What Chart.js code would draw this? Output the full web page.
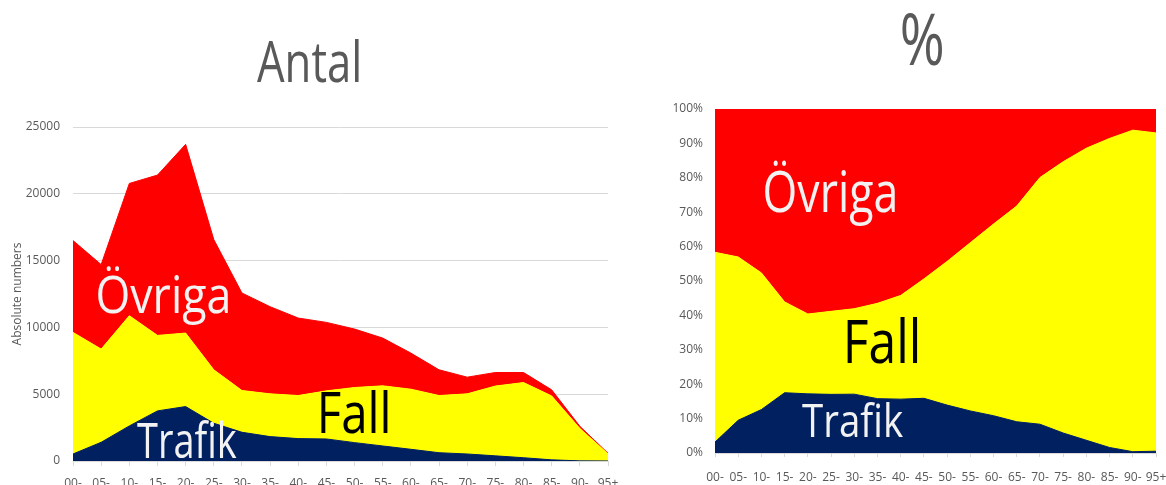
<!DOCTYPE html>
<html>
<head>
<meta charset="utf-8">
<script src="https://cdn.jsdelivr.net/npm/chart.js@4.4.1/dist/chart.umd.min.js"></script>
<style>
  html, body { margin: 0; padding: 0; overflow: hidden; background: #fff; width: 1166px; height: 485px; }
  #antal { position: absolute; left: 0; top: 0; }
  #andel { position: absolute; left: 620px; top: 0; }
</style>
</head>
<body>
<canvas id="antal" width="640" height="500"></canvas>
<canvas id="andel" width="560" height="500"></canvas>
<script>
// åldersgrupper
const ages = ['00-','05-','10-','15-','20-','25-','30-','35-','40-','45-','50-','55-','60-','65-','70-','75-','80-','85-','90-','95+'];

// antal per orsak och åldersgrupp
const trafik = [525, 1400, 2625, 3750, 4075, 2825, 2150, 1825, 1675, 1650, 1375, 1125, 875, 620, 525, 385, 245, 85, 10, 3];
const fall   = [9100, 6975, 8250, 5650, 5500, 4000, 3125, 3200, 3225, 3600, 4125, 4500, 4500, 4280, 4500, 5225, 5625, 4785, 2430, 532];
const ovriga = [6875, 6325, 9900, 12000, 14125, 9750, 7300, 6525, 5800, 5125, 4375, 3575, 2700, 1925, 1250, 1015, 755, 455, 160, 40];

const antalTicks = [0, 5000, 10000, 15000, 20000, 25000];

const GREY = '#595959';
const GRID = '#d9d9d9';
const FONT = 'Open Sans';

// andel i procent av totalen per åldersgrupp
const totals = ages.map((_, i) => trafik[i] + fall[i] + ovriga[i]);
const share = arr => arr.map((v, i) => v / totals[i] * 100);

// stor text, pressad i sidled till angiven bredd
const bigText = {
  id: 'bigText',
  afterDatasetsDraw(chart, args, opts) {
    const ctx = chart.ctx;
    (opts.items || []).forEach(t => {
      ctx.save();
      ctx.font = t.size + 'px "' + FONT + '"';
      ctx.fillStyle = t.color;
      ctx.textAlign = 'left';
      ctx.textBaseline = 'alphabetic';
      const m = ctx.measureText(t.text);
      const ink = m.actualBoundingBoxLeft + m.actualBoundingBoxRight;
      ctx.translate(t.x, t.y);
      ctx.scale(t.width / ink, 1);
      ctx.fillText(t.text, m.actualBoundingBoxLeft, 0);
      ctx.restore();
    });
  }
};

function areaSets(a, b, c) {
  return [
    { label: 'Trafik', data: a, backgroundColor: '#002060', borderColor: '#002060', fill: 'origin' },
    { label: 'Fall',   data: b, backgroundColor: '#ffff00', borderColor: '#ffff00', fill: '-1' },
    { label: 'Övriga', data: c, backgroundColor: '#ff0000', borderColor: '#ff0000', fill: '-1' }
  ];
}

const common = {
  responsive: false,
  animation: false,
  elements: { point: { radius: 0 }, line: { borderWidth: 1, tension: 0 } },
  plugins: { legend: { display: false }, tooltip: { enabled: false } }
};

// Antal
new Chart(document.getElementById('antal'), {
  type: 'line',
  data: { labels: ages, datasets: areaSets(trafik, fall, ovriga) },
  plugins: [bigText],
  options: {
    ...common,
    layout: { padding: { top: 127, right: 32, left: 0, bottom: 0 } },
    plugins: {
      ...common.plugins,
      bigText: {
        items: [
          { text: 'Antal',  x: 257, y: 82,  size: 56, width: 102, color: GREY },
          { text: 'Övriga', x: 98,  y: 313, size: 52, width: 130, color: '#f2f2f2' },
          { text: 'Trafik', x: 137, y: 458, size: 49, width: 100, color: '#f2f2f2' },
          { text: 'Fall',   x: 321, y: 433, size: 56, width: 67,  color: '#000' }
        ]
      }
    },
    scales: {
      x: {
        offset: false,
        grid: { drawOnChartArea: false, color: GRID, tickLength: 5 },
        border: { color: GRID },
        ticks: { color: GREY, font: { family: FONT, size: 12 }, padding: 10, autoSkip: false, maxRotation: 0 },
        afterFit(axis) { axis.height = 39; }
      },
      y: {
        stacked: true,
        min: antalTicks[0],
        max: antalTicks[antalTicks.length - 1],
        afterBuildTicks(axis) { axis.ticks = antalTicks.map(v => ({ value: v })); },
        ticks: { color: GREY, font: { family: FONT, size: 12 }, padding: 13, callback: v => String(v) },
        grid: { color: GRID, drawTicks: false },
        border: { display: false },
        title: { display: true, text: 'Absolute numbers', color: GREY, font: { family: FONT, size: 12 }, padding: { top: 10, bottom: 0 } },
        afterFit(axis) { axis.width = 73; }
      }
    }
  }
});

// Andel i procent
new Chart(document.getElementById('andel'), {
  type: 'line',
  data: { labels: ages, datasets: areaSets(share(trafik), share(fall), share(ovriga)) },
  plugins: [bigText],
  options: {
    ...common,
    layout: { padding: { top: 109, right: 24, left: 0, bottom: 0 } },
    plugins: {
      ...common.plugins,
      bigText: {
        items: [
          { text: '%',      x: 282, y: 65,  size: 72, width: 40,  color: GREY },
          { text: 'Övriga', x: 145, y: 212, size: 56, width: 130, color: '#f2f2f2' },
          { text: 'Fall',   x: 227, y: 363, size: 60, width: 71,  color: '#000' },
          { text: 'Trafik', x: 182, y: 437, size: 46, width: 101, color: '#f2f2f2' }
        ]
      }
    },
    scales: {
      x: {
        offset: false,
        grid: { drawOnChartArea: false, color: GRID, tickLength: 4 },
        border: { color: GRID },
        ticks: { color: GREY, font: { family: FONT, size: 12 }, padding: 13, autoSkip: false, maxRotation: 0 },
        afterFit(axis) { axis.height = 47; }
      },
      y: {
        stacked: true,
        min: 0,
        max: 100,
        ticks: { stepSize: 10, color: GREY, font: { family: FONT, size: 12 }, padding: 12, callback: v => v + '%' },
        grid: { color: GRID, drawTicks: false },
        border: { display: false },
        afterFit(axis) { axis.width = 95; }
      }
    }
  }
});
</script>
</body>
</html>
